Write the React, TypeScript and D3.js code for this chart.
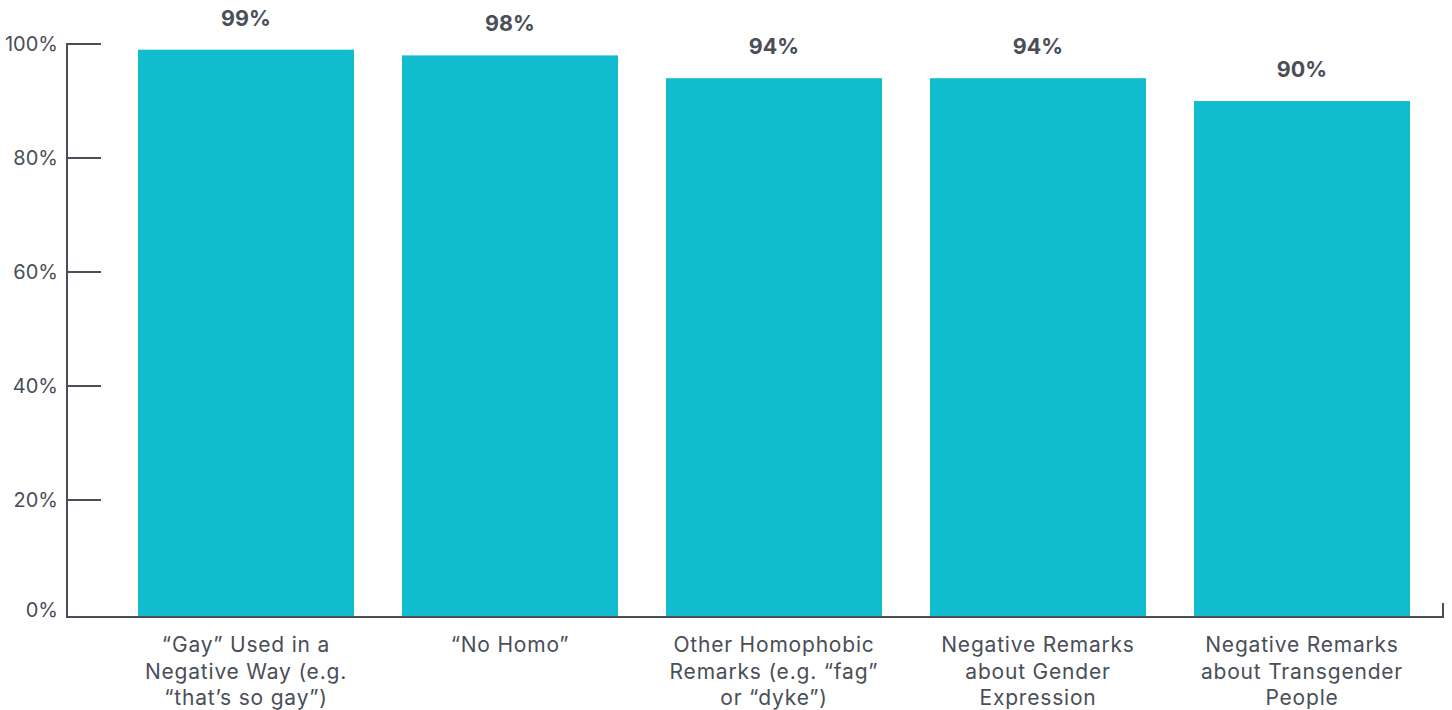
import React from 'react';
import * as d3 from 'd3';

const categories = [
  ['“Gay” Used in a', 'Negative Way (e.g.', '“that’s so gay”)'],
  ['“No Homo”'],
  ['Other Homophobic', 'Remarks (e.g. “fag”', 'or “dyke”)'],
  ['Negative Remarks', 'about Gender', 'Expression'],
  ['Negative Remarks', 'about Transgender', 'People'],
];
const values = [99, 98, 94, 94, 90];
const yTicks = [0, 20, 40, 60, 80, 100];

const W = 1452;
const H = 710;
const axisX = 67;
const axisY = 617;
const textColor = '#4a4e57';

export default function App() {
  const keys = categories.map((c, i) => String(i));

  const x = d3.scaleBand<string>()
    .domain(keys)
    .range([114, 1434])
    .paddingInner(48 / 264)
    .paddingOuter(24 / 264);

  const y = d3.scaleLinear()
    .domain([0, 100])
    .range([614, 44]);

  const cx = (i: number) => x(keys[i])! + x.bandwidth() / 2;

  return (
    <svg width={W} height={H} style={{ position: 'absolute', left: 0, top: 0, fontFamily: 'Inter, sans-serif' }}>
      {values.map((v, i) => (
        <rect key={'b' + i} x={x(keys[i])} y={y(v)} width={x.bandwidth()}
              height={axisY - y(v)} fill="#12bccf" />
      ))}
      {values.map((v, i) => (
        <text key={'v' + i} x={cx(i)} y={y(v) - 24}
              textAnchor="middle" fontSize={21.5} fontWeight={700} fill={textColor}>
          {v}%
        </text>
      ))}

      {/* y axis */}
      <line x1={axisX} x2={axisX} y1={y(100) - 1} y2={axisY} stroke={textColor} strokeWidth={2} />
      {yTicks.map(t => (
        <g key={'t' + t}>
          {t > 0 && <line x1={axisX} x2={101} y1={y(t)} y2={y(t)} stroke={textColor} strokeWidth={2} />}
          <text x={58} y={y(t) - (t === 0 ? 4 : 0)} dy="0.35em" textAnchor="end" fontSize={20} fill={textColor}>
            {t}%
          </text>
        </g>
      ))}

      {/* x axis */}
      <line x1={axisX - 1} x2={1444} y1={axisY} y2={axisY} stroke={textColor} strokeWidth={2} />
      <line x1={1443} x2={1443} y1={603} y2={axisY} stroke={textColor} strokeWidth={2} />

      {categories.map((lines, i) => (
        <text key={'c' + i} x={cx(i)} y={652}
              textAnchor="middle" fontSize={21} letterSpacing={0.8} fill={textColor}>
          {lines.map((l, j) => (
            <tspan key={j} x={cx(i)} dy={j === 0 ? 0 : 26.5}>{l}</tspan>
          ))}
        </text>
      ))}
    </svg>
  );
}
